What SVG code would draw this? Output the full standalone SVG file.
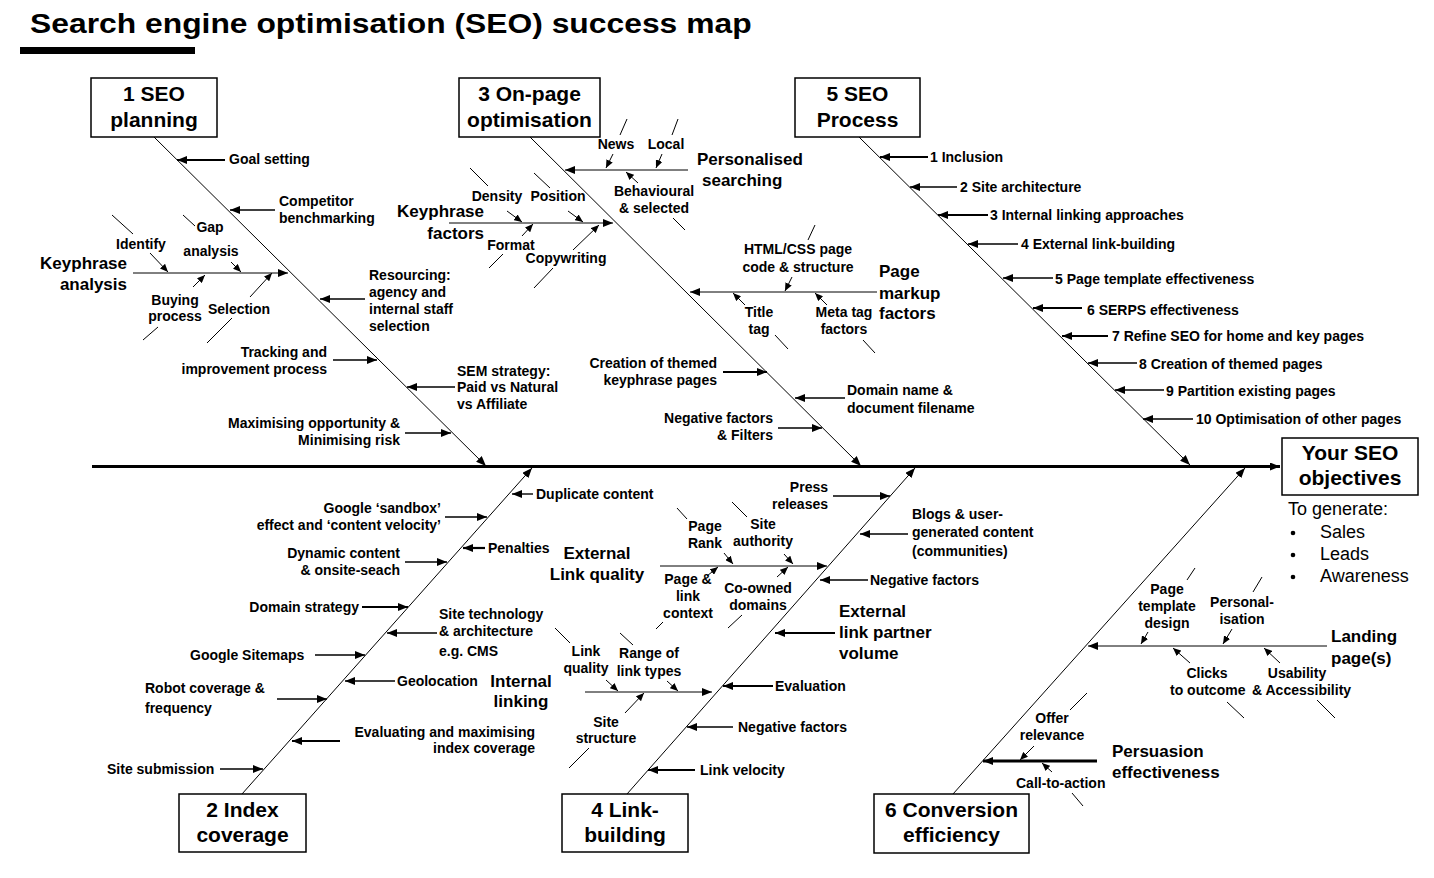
<svg xmlns="http://www.w3.org/2000/svg" width="1434" height="878" viewBox="0 0 1434 878">
<style>
text{font-family:"Liberation Sans",Arial,sans-serif;font-weight:bold;fill:#000}
.s{font-size:14px}
.m{font-size:17px}
.b{font-size:21px}
.r{font-weight:normal;font-size:18px}
.c{text-anchor:middle}
.e{text-anchor:end}
.ln{stroke:#000;stroke-width:1;fill:none}
.th{stroke:#000;stroke-width:1.4;fill:none}
.tk{stroke:#000;stroke-width:2.2;fill:none}
.box{fill:#fff;stroke:#000;stroke-width:1.5}
</style>
<defs>
<marker id="ah" viewBox="0 0 10 8" refX="10" refY="4" markerWidth="10" markerHeight="8" markerUnits="userSpaceOnUse" orient="auto"><path d="M0,0L10,4L0,8z" fill="#000"/></marker>
<marker id="as" viewBox="0 0 8 7" refX="8" refY="3.5" markerWidth="8" markerHeight="7" markerUnits="userSpaceOnUse" orient="auto"><path d="M0,0L8,3.5L0,7z" fill="#000"/></marker>
</defs>
<rect width="1434" height="878" fill="#fff"/>
<g id="title">
<text transform="translate(30,33) scale(1.137,1)" font-size="28">Search engine optimisation (SEO) success map</text>
<rect x="20" y="47" width="175" height="7" fill="#000"/>
</g>

<g id="connectors">
<path d="M92,466.5H1280" stroke="#000" stroke-width="3" fill="none" marker-end="url(#ah)"/>
<path class="ln" d="M154,137L486,466" marker-end="url(#ah)"/>
<path class="ln" d="M530,137L861,466" marker-end="url(#ah)"/>
<path class="ln" d="M859,137L1190,465" marker-end="url(#ah)"/>
<path class="ln" d="M242,794L532,468" marker-end="url(#ah)"/>
<path class="ln" d="M627,794L915,468" marker-end="url(#ah)"/>
<path class="ln" d="M953,794L1245,468" marker-end="url(#ah)"/>
<path class="tk" d="M225,160H177" marker-end="url(#ah)"/>
<path class="th" d="M275,210H230" marker-end="url(#ah)"/>
<path class="ln" d="M133,273H288" marker-end="url(#ah)"/>
<path class="ln" d="M112,215L133,234M183,215L195,226M158,327L143,340M232,318L207,343"/>
<path class="ln" d="M150,253L168,272" marker-end="url(#as)"/>
<path class="ln" d="M231,262L241,272" marker-end="url(#as)"/>
<path class="ln" d="M193,287L205,275" marker-end="url(#as)"/>
<path class="ln" d="M250,297L272,273" marker-end="url(#as)"/>
<path class="th" d="M365,299H320" marker-end="url(#ah)"/>
<path class="th" d="M333,360H377" marker-end="url(#ah)"/>
<path class="th" d="M455,387H407" marker-end="url(#ah)"/>
<path class="th" d="M405,433H451" marker-end="url(#ah)"/>
<path class="ln" d="M688,170H565" marker-end="url(#ah)"/>
<path class="ln" d="M627,119L620,135M678,119L672,135M673,218L685,230"/>
<path class="ln" d="M613,154L606,168" marker-end="url(#as)"/>
<path class="ln" d="M662,154L656,168" marker-end="url(#as)"/>
<path class="ln" d="M638,183L626,172" marker-end="url(#as)"/>
<path class="ln" d="M449,223H613" marker-end="url(#ah)"/>
<path class="ln" d="M470,168L488,186M534,173L550,188M503,254L489,268M553,268L534,288"/>
<path class="ln" d="M507,211L522,222" marker-end="url(#as)"/>
<path class="ln" d="M568,211L583,222" marker-end="url(#as)"/>
<path class="ln" d="M522,236L533,224" marker-end="url(#as)"/>
<path class="ln" d="M573,250L599,225" marker-end="url(#as)"/>
<path class="ln" d="M877,292H690" marker-end="url(#ah)"/>
<path class="ln" d="M815,225L808,240M775,335L788,349M863,340L875,353"/>
<path class="ln" d="M792,277L785,291" marker-end="url(#as)"/>
<path class="ln" d="M745,305L733,293" marker-end="url(#as)"/>
<path class="ln" d="M827,305L815,293" marker-end="url(#as)"/>
<path class="tk" d="M723,372H767" marker-end="url(#ah)"/>
<path class="th" d="M845,398H795" marker-end="url(#ah)"/>
<path class="th" d="M778,428H822" marker-end="url(#ah)"/>
<path class="tk" d="M928,157H880" marker-end="url(#ah)"/>
<path class="th" d="M957,187H910" marker-end="url(#ah)"/>
<path class="tk" d="M988,215H938" marker-end="url(#ah)"/>
<path class="th" d="M1018,244H968" marker-end="url(#ah)"/>
<path class="th" d="M1053,278H1003" marker-end="url(#ah)"/>
<path class="tk" d="M1082,308H1033" marker-end="url(#ah)"/>
<path class="tk" d="M1108,336H1062" marker-end="url(#ah)"/>
<path class="th" d="M1137,363H1088" marker-end="url(#ah)"/>
<path class="th" d="M1164,390H1115" marker-end="url(#ah)"/>
<path class="th" d="M1193,419H1143" marker-end="url(#ah)"/>
<path class="th" d="M533,494H512" marker-end="url(#ah)"/>
<path class="th" d="M445,517H487" marker-end="url(#ah)"/>
<path class="tk" d="M485,548H463" marker-end="url(#ah)"/>
<path class="th" d="M405,562H447" marker-end="url(#ah)"/>
<path class="tk" d="M362,607H408" marker-end="url(#ah)"/>
<path class="th" d="M437,633H387" marker-end="url(#ah)"/>
<path class="th" d="M315,655H365" marker-end="url(#ah)"/>
<path class="th" d="M395,681H345" marker-end="url(#ah)"/>
<path class="th" d="M277,699H327" marker-end="url(#ah)"/>
<path class="tk" d="M340,741H292" marker-end="url(#ah)"/>
<path class="th" d="M220,769H263" marker-end="url(#ah)"/>
<path class="th" d="M833,496H890" marker-end="url(#ah)"/>
<path class="th" d="M908,534H860" marker-end="url(#ah)"/>
<path class="ln" d="M660,566H827" marker-end="url(#ah)"/>
<path class="ln" d="M677,508L687,519M732,502L747,517M663,622L656,629M742,615L728,628"/>
<path class="ln" d="M724,553L733,564" marker-end="url(#as)"/>
<path class="ln" d="M784,554L793,564" marker-end="url(#as)"/>
<path class="ln" d="M707,576L718,567" marker-end="url(#as)"/>
<path class="ln" d="M777,577L788,567" marker-end="url(#as)"/>
<path class="th" d="M868,580H820" marker-end="url(#ah)"/>
<path class="tk" d="M835,633H775" marker-end="url(#ah)"/>
<path class="ln" d="M585,692H712" marker-end="url(#ah)"/>
<path class="ln" d="M555,628L570,643M620,633L633,645M589,748L569,768"/>
<path class="ln" d="M606,680L618,691" marker-end="url(#as)"/>
<path class="ln" d="M667,681L678,691" marker-end="url(#as)"/>
<path class="ln" d="M625,713L644,693" marker-end="url(#as)"/>
<path class="tk" d="M773,686H723" marker-end="url(#ah)"/>
<path class="th" d="M733,727H687" marker-end="url(#ah)"/>
<path class="tk" d="M695,770H648" marker-end="url(#ah)"/>
<path class="ln" d="M1327,646H1088" marker-end="url(#ah)"/>
<path class="ln" d="M1195,568L1187,580M1262,577L1253,592M1227,702L1244,718M1317,700L1335,718"/>
<path class="ln" d="M1148,632L1141,644" marker-end="url(#as)"/>
<path class="ln" d="M1232,629L1223,644" marker-end="url(#as)"/>
<path class="ln" d="M1190,663L1173,648" marker-end="url(#as)"/>
<path class="ln" d="M1280,663L1264,648" marker-end="url(#as)"/>
<path d="M1097,761H983" stroke="#000" stroke-width="3" fill="none" marker-end="url(#ah)"/>
<path class="ln" d="M1087,693L1070,710M1072,793L1083,806"/>
<path class="ln" d="M1034,746L1020,760" marker-end="url(#as)"/>
<path class="ln" d="M1052,772L1042,763" marker-end="url(#as)"/>
</g>

<g id="box1"><rect class="box" x="91" y="78" width="126" height="59"/><text class="b c" x="154" y="101">1 SEO</text><text class="b c" x="154" y="127">planning</text></g>
<g id="box3"><rect class="box" x="459" y="78" width="141" height="59"/><text class="b c" x="529.5" y="101">3 On-page</text><text class="b c" x="529.5" y="127">optimisation</text></g>
<g id="box5"><rect class="box" x="795" y="78" width="125" height="59"/><text class="b c" x="857.5" y="101">5 SEO</text><text class="b c" x="857.5" y="127">Process</text></g>
<g id="box2"><rect class="box" x="179" y="794" width="127" height="58"/><text class="b c" x="242.5" y="817">2 Index</text><text class="b c" x="242.5" y="842">coverage</text></g>
<g id="box4"><rect class="box" x="562" y="794" width="126" height="58"/><text class="b c" x="625" y="817">4 Link-</text><text class="b c" x="625" y="842">building</text></g>
<g id="box6"><rect class="box" x="874" y="794" width="155" height="59"/><text class="b c" x="951.5" y="817">6 Conversion</text><text class="b c" x="951.5" y="842">efficiency</text></g>
<g id="objectives"><rect class="box" x="1282" y="438" width="136" height="57"/><text class="b c" x="1350" y="460">Your SEO</text><text class="b c" x="1350" y="485">objectives</text>
<text class="r" x="1288" y="515">To generate:</text>
<circle cx="1293" cy="533" r="2.3"/><circle cx="1293" cy="555" r="2.3"/><circle cx="1293" cy="577" r="2.3"/>
<text class="r" x="1320" y="538">Sales</text><text class="r" x="1320" y="560">Leads</text><text class="r" x="1320" y="582">Awareness</text></g>

<g id="n1-causes">
<g id="goal"><text class="s" x="229" y="164">Goal setting</text></g>
<g id="competitor"><text class="s" x="279" y="206">Competitor</text><text class="s" x="279" y="223">benchmarking</text></g>
<g id="keyphrase-analysis"><text class="m e" x="127" y="269">Keyphrase</text><text class="m e" x="127" y="290">analysis</text></g>
<g id="identify"><text class="s c" x="141" y="249">Identify</text></g>
<g id="gap"><text class="s c" x="210" y="232">Gap</text><text class="s c" x="211" y="256">analysis</text></g>
<g id="buying"><text class="s c" x="175" y="305">Buying</text><text class="s c" x="175" y="321">process</text></g>
<g id="selection"><text class="s c" x="239" y="314">Selection</text></g>
<g id="resourcing"><text class="s" x="369" y="280">Resourcing:</text><text class="s" x="369" y="297">agency and</text><text class="s" x="369" y="314">internal staff</text><text class="s" x="369" y="331">selection</text></g>
<g id="tracking"><text class="s e" x="327" y="357">Tracking and</text><text class="s e" x="327" y="374">improvement process</text></g>
<g id="sem"><text class="s" x="457" y="376">SEM strategy:</text><text class="s" x="457" y="392">Paid vs Natural</text><text class="s" x="457" y="409">vs Affiliate</text></g>
<g id="maximising"><text class="s e" x="400" y="428">Maximising opportunity &amp;</text><text class="s e" x="400" y="445">Minimising risk</text></g>
</g>

<g id="n3-causes">
<g id="news"><text class="s c" x="616" y="149">News</text></g>
<g id="local"><text class="s c" x="666" y="149">Local</text></g>
<g id="personalised"><text class="m" x="697" y="165">Personalised</text><text class="m" x="702" y="186">searching</text></g>
<g id="behavioural"><text class="s c" x="654" y="196">Behavioural</text><text class="s c" x="654" y="213">&amp; selected</text></g>
<g id="keyphrase-factors"><text class="m e" x="484" y="217">Keyphrase</text><text class="m e" x="484" y="239">factors</text></g>
<g id="density"><text class="s c" x="497" y="201">Density</text></g>
<g id="position"><text class="s c" x="558" y="201">Position</text></g>
<g id="format"><text class="s c" x="511" y="250">Format</text></g>
<g id="copywriting"><text class="s c" x="566" y="263">Copywriting</text></g>
<g id="html"><text class="s c" x="798" y="254">HTML/CSS page</text><text class="s c" x="798" y="272">code &amp; structure</text></g>
<g id="page-markup"><text class="m" x="879" y="277">Page</text><text class="m" x="879" y="299">markup</text><text class="m" x="879" y="319">factors</text></g>
<g id="title-tag"><text class="s c" x="759" y="317">Title</text><text class="s c" x="759" y="334">tag</text></g>
<g id="meta"><text class="s c" x="844" y="317">Meta tag</text><text class="s c" x="844" y="334">factors</text></g>
<g id="creation"><text class="s e" x="717" y="368">Creation of themed</text><text class="s e" x="717" y="385">keyphrase pages</text></g>
<g id="domain-name"><text class="s" x="847" y="395">Domain name &amp;</text><text class="s" x="847" y="413">document filename</text></g>
<g id="negative-filters"><text class="s e" x="773" y="423">Negative factors</text><text class="s e" x="773" y="440">&amp; Filters</text></g>
</g>

<g id="n5-causes">
<g id="p1"><text class="s" x="930" y="162">1 Inclusion</text></g>
<g id="p2"><text class="s" x="960" y="192">2 Site architecture</text></g>
<g id="p3"><text class="s" x="990" y="220">3 Internal linking approaches</text></g>
<g id="p4"><text class="s" x="1021" y="249">4 External link-building</text></g>
<g id="p5"><text class="s" x="1055" y="284">5 Page template effectiveness</text></g>
<g id="p6"><text class="s" x="1087" y="315">6 SERPS effectiveness</text></g>
<g id="p7"><text class="s" x="1112" y="341">7 Refine SEO for home and key pages</text></g>
<g id="p8"><text class="s" x="1139" y="369">8 Creation of themed pages</text></g>
<g id="p9"><text class="s" x="1166" y="396">9 Partition existing pages</text></g>
<g id="p10"><text class="s" x="1196" y="424">10 Optimisation of other pages</text></g>
</g>

<g id="n2-causes">
<g id="duplicate"><text class="s" x="536" y="499">Duplicate content</text></g>
<g id="sandbox"><text class="s e" x="441" y="513">Google ‘sandbox’</text><text class="s e" x="441" y="530">effect and ‘content velocity’</text></g>
<g id="penalties"><text class="s" x="488" y="553">Penalties</text></g>
<g id="dynamic"><text class="s e" x="400" y="558">Dynamic content</text><text class="s e" x="400" y="575">&amp; onsite-seach</text></g>
<g id="domain-strategy"><text class="s e" x="359" y="612">Domain strategy</text></g>
<g id="site-tech"><text class="s" x="439" y="619">Site technology</text><text class="s" x="439" y="636">&amp; architecture</text><text class="s" x="439" y="656">e.g. CMS</text></g>
<g id="sitemaps"><text class="s" x="190" y="660">Google Sitemaps</text></g>
<g id="geolocation"><text class="s" x="397" y="686">Geolocation</text></g>
<g id="robot"><text class="s" x="145" y="693">Robot coverage &amp;</text><text class="s" x="145" y="713">frequency</text></g>
<g id="evaluating"><text class="s e" x="535" y="737">Evaluating and maximising</text><text class="s e" x="535" y="753">index coverage</text></g>
<g id="submission"><text class="s" x="107" y="774">Site submission</text></g>
</g>

<g id="n4-causes">
<g id="press"><text class="s e" x="828" y="492">Press</text><text class="s e" x="828" y="509">releases</text></g>
<g id="blogs"><text class="s" x="912" y="519">Blogs &amp; user-</text><text class="s" x="912" y="537">generated content</text><text class="s" x="912" y="556">(communities)</text></g>
<g id="ext-link-quality"><text class="m c" x="597" y="559">External</text><text class="m c" x="597" y="580">Link quality</text></g>
<g id="pagerank"><text class="s c" x="705" y="531">Page</text><text class="s c" x="705" y="548">Rank</text></g>
<g id="site-authority"><text class="s c" x="763" y="529">Site</text><text class="s c" x="763" y="546">authority</text></g>
<g id="page-link-context"><text class="s c" x="688" y="584">Page &amp;</text><text class="s c" x="688" y="601">link</text><text class="s c" x="688" y="618">context</text></g>
<g id="co-owned"><text class="s c" x="758" y="593">Co-owned</text><text class="s c" x="758" y="610">domains</text></g>
<g id="negative-1"><text class="s" x="870" y="585">Negative factors</text></g>
<g id="ext-partner"><text class="m" x="839" y="617">External</text><text class="m" x="839" y="638">link partner</text><text class="m" x="839" y="659">volume</text></g>
<g id="internal-linking"><text class="m c" x="521" y="687">Internal</text><text class="m c" x="521" y="707">linking</text></g>
<g id="link-quality"><text class="s c" x="586" y="656">Link</text><text class="s c" x="586" y="673">quality</text></g>
<g id="range"><text class="s c" x="649" y="658">Range of</text><text class="s c" x="649" y="676">link types</text></g>
<g id="site-structure"><text class="s c" x="606" y="727">Site</text><text class="s c" x="606" y="743">structure</text></g>
<g id="evaluation"><text class="s" x="775" y="691">Evaluation</text></g>
<g id="negative-2"><text class="s" x="738" y="732">Negative factors</text></g>
<g id="velocity"><text class="s" x="700" y="775">Link velocity</text></g>
</g>

<g id="n6-causes">
<g id="landing"><text class="m" x="1331" y="642">Landing</text><text class="m" x="1331" y="664">page(s)</text></g>
<g id="template"><text class="s c" x="1167" y="594">Page</text><text class="s c" x="1167" y="611">template</text><text class="s c" x="1167" y="628">design</text></g>
<g id="personalisation"><text class="s c" x="1242" y="607">Personal-</text><text class="s c" x="1242" y="624">isation</text></g>
<g id="clicks"><text class="s c" x="1207" y="678">Clicks</text><text class="s" x="1170" y="695">to outcome</text></g>
<g id="usability"><text class="s c" x="1297" y="678">Usability</text><text class="s" x="1252" y="695">&amp; Accessibility</text></g>
<g id="offer"><text class="s c" x="1052" y="723">Offer</text><text class="s c" x="1052" y="740">relevance</text></g>
<g id="persuasion"><text class="m" x="1112" y="757">Persuasion</text><text class="m" x="1112" y="778">effectiveness</text></g>
<g id="cta"><text class="s" x="1016" y="788">Call-to-action</text></g>
</g>
</svg>
